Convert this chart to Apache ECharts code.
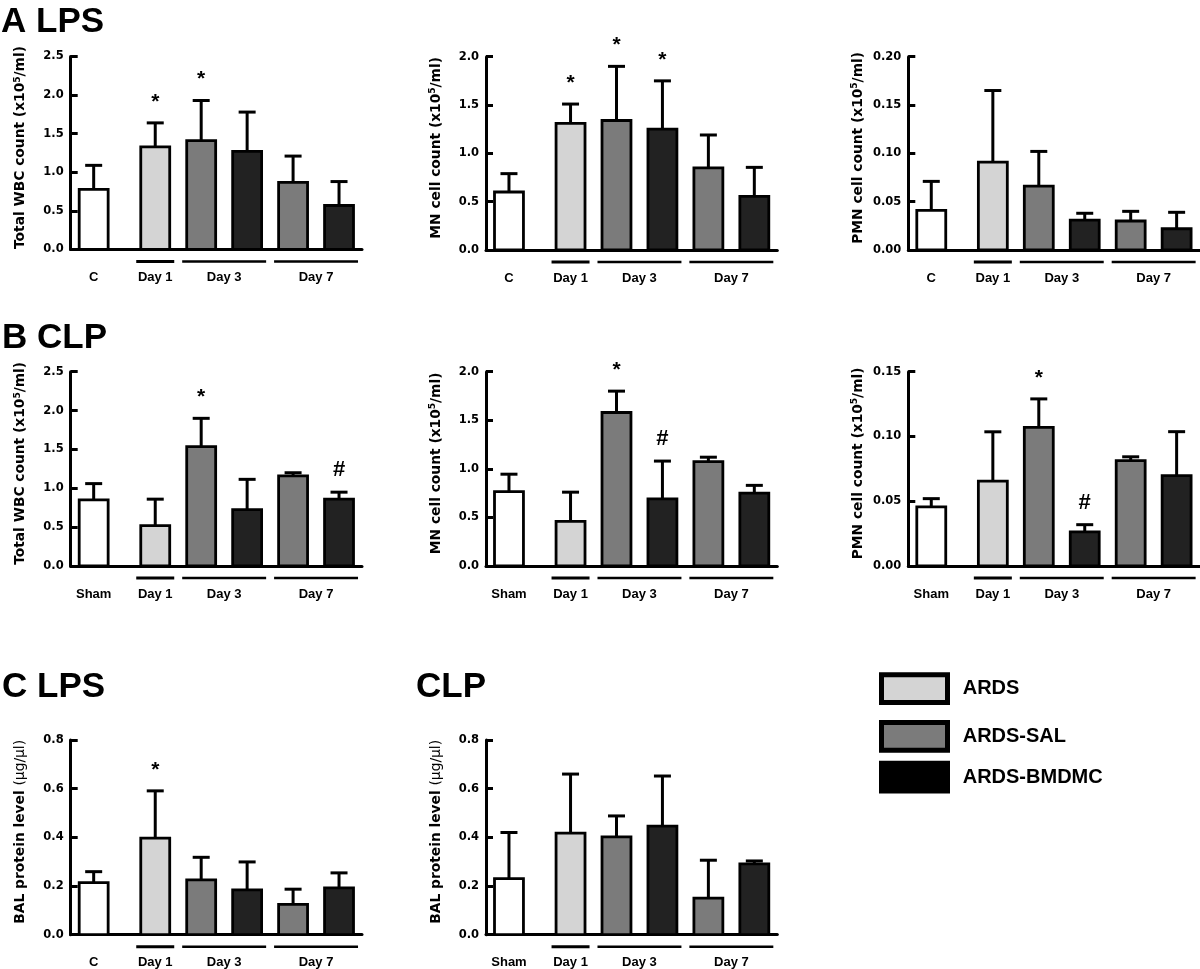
<!DOCTYPE html>
<html>
<head>
<meta charset="utf-8">
<script src="https://cdn.jsdelivr.net/npm/echarts@6/dist/echarts.min.js"></script>
<style>
html,body{margin:0;padding:0;background:#fff;}
#chart{width:1200px;height:969px;}
</style>
</head>
<body>
<div id="chart"></div>
<script>
// ---------- DATA ----------
const lpsGroupLabels = ['C', 'Day 1', 'Day 3', 'Day 7'];
const clpGroupLabels = ['Sham', 'Day 1', 'Day 3', 'Day 7'];
const barTreatment = ['Control', 'ARDS', 'ARDS-SAL', 'ARDS-BMDMC', 'ARDS-SAL', 'ARDS-BMDMC'];
const barGroupIndex = [0, 1, 2, 2, 3, 3];
const legendNames = ['ARDS', 'ARDS-SAL', 'ARDS-BMDMC'];

// A LPS
const lpsWbcMean = [0.78, 1.33, 1.41, 1.27, 0.87, 0.57];
const lpsWbcErr  = [0.31, 0.31, 0.52, 0.51, 0.34, 0.31];
const lpsWbcMark = ['', '*', '*', '', '', ''];
const lpsMnMean  = [0.60, 1.31, 1.34, 1.25, 0.85, 0.555];
const lpsMnErr   = [0.19, 0.20, 0.56, 0.50, 0.34, 0.30];
const lpsMnMark  = ['', '*', '*', '*', '', ''];
const lpsPmnMean = [0.041, 0.091, 0.066, 0.031, 0.030, 0.022];
const lpsPmnErr  = [0.030, 0.074, 0.036, 0.007, 0.010, 0.017];
const lpsPmnMark = ['', '', '', '', '', ''];
// B CLP
const clpWbcMean = [0.85, 0.52, 1.535, 0.725, 1.16, 0.86];
const clpWbcErr  = [0.21, 0.34, 0.365, 0.39, 0.04, 0.09];
const clpWbcMark = ['', '', '*', '', '', '#'];
const clpMnMean  = [0.765, 0.46, 1.58, 0.69, 1.075, 0.75];
const clpMnErr   = [0.18, 0.30, 0.22, 0.39, 0.045, 0.08];
const clpMnMark  = ['', '', '*', '#', '', ''];
const clpPmnMean = [0.0456, 0.0656, 0.107, 0.0263, 0.0813, 0.0697];
const clpPmnErr  = [0.0064, 0.038, 0.022, 0.0056, 0.003, 0.034];
const clpPmnMark = ['', '', '*', '#', '', ''];
// C protein
const lpsProtMean = [0.214, 0.397, 0.225, 0.184, 0.125, 0.192];
const lpsProtErr  = [0.045, 0.194, 0.093, 0.115, 0.062, 0.062];
const lpsProtMark = ['', '*', '', '', '', ''];
const clpProtMean = [0.23, 0.417, 0.402, 0.446, 0.150, 0.291];
const clpProtErr  = [0.19, 0.243, 0.086, 0.206, 0.156, 0.012];
const clpProtMark = ['', '', '', '', '', ''];

// ---------- STYLE / LAYOUT ----------
const fillOf = {'Control':'#ffffff','ARDS':'#d4d4d4','ARDS-SAL':'#7b7b7b','ARDS-BMDMC':'#222222'};
const legendFill = {'ARDS':'#d4d4d4','ARDS-SAL':'#7b7b7b','ARDS-BMDMC':'#000000'};
const slotX = barGroupIndex.map((g, i) => i === 0 ? 0 : i + 0.34);
const SANS = '"Liberation Sans", Arial, Helvetica, sans-serif';

const panels = [
  {left:70.7, top:56.5, h:193, max:2.5, interval:0.5, dec:1, name:'Total WBC count (x10{sup|5}/ml)', mean:lpsWbcMean, err:lpsWbcErr, mark:lpsWbcMark, labels:lpsGroupLabels},
  {left:486, top:56.7, h:193.3, max:2.0, interval:0.5, dec:1, name:'MN cell count (x10{sup|5}/ml)', mean:lpsMnMean, err:lpsMnErr, mark:lpsMnMark, labels:lpsGroupLabels},
  {left:908.3, top:56.7, h:193.3, max:0.20, interval:0.05, dec:2, name:'PMN cell count (x10{sup|5}/ml)', mean:lpsPmnMean, err:lpsPmnErr, mark:lpsPmnMark, labels:lpsGroupLabels},
  {left:70.7, top:371.7, h:194.3, max:2.5, interval:0.5, dec:1, name:'Total WBC count (x10{sup|5}/ml)', mean:clpWbcMean, err:clpWbcErr, mark:clpWbcMark, labels:clpGroupLabels},
  {left:486, top:371.7, h:194.3, max:2.0, interval:0.5, dec:1, name:'MN cell count (x10{sup|5}/ml)', mean:clpMnMean, err:clpMnErr, mark:clpMnMark, labels:clpGroupLabels},
  {left:908.3, top:371.7, h:194.3, max:0.15, interval:0.05, dec:2, name:'PMN cell count (x10{sup|5}/ml)', mean:clpPmnMean, err:clpPmnErr, mark:clpPmnMark, labels:clpGroupLabels},
  {left:70.7, top:740, h:194.7, max:0.8, interval:0.2, dec:1, name:'BAL protein level {n|(μg/μl)}', mean:lpsProtMean, err:lpsProtErr, mark:lpsProtMark, labels:lpsGroupLabels},
  {left:486, top:740, h:194.7, max:0.8, interval:0.2, dec:1, name:'BAL protein level {n|(μg/μl)}', mean:clpProtMean, err:clpProtErr, mark:clpProtMark, labels:clpGroupLabels}
];

const grids = [], xAxes = [], yAxes = [], series = [];
panels.forEach((p, k) => {
  grids.push({left:p.left, top:p.top, width:291.3, height:p.h, containLabel:false, outerBoundsMode:'none'});
  xAxes.push({gridIndex:k, type:'value', min:-0.5, max:5.84,
    axisLine:{show:true, onZero:false, lineStyle:{color:'#000', width:3}},
    axisTick:{show:false}, axisLabel:{show:false}, splitLine:{show:false}});
  yAxes.push({gridIndex:k, type:'value', min:0, max:p.max, interval:p.interval,
    axisLine:{show:true, onZero:false, lineStyle:{color:'#000', width:3}},
    axisTick:{show:true, inside:true, length:7, lineStyle:{color:'#000', width:3}},
    axisLabel:{color:'#000', fontFamily:'DejaVu Sans', fontWeight:'bold', fontSize:11.5, margin:7,
      formatter: v => v.toFixed(p.dec)},
    splitLine:{show:false},
    name:p.name, nameLocation:'middle', nameRotate:90, nameGap:42,
    nameTextStyle:{color:'#000', fontFamily:'DejaVu Sans', fontWeight:'bold', fontSize:13.8, lineHeight:16,
      padding:[0, 0, 0, 11],
      rich:{
        sup:{color:'#000', fontFamily:'DejaVu Sans', fontWeight:'bold', fontSize:9, lineHeight:16, verticalAlign:'top'},
        n:{color:'#000', fontFamily:'DejaVu Sans', fontWeight:'normal', fontSize:13.8, lineHeight:16}
      }}
  });
  // bars + error bars + significance marks
  series.push({
    type:'custom', xAxisIndex:k, yAxisIndex:k, clip:false, silent:true,
    data: p.mean.map((m, i) => [slotX[i], m, p.err[i], i]),
    renderItem: (params, api) => {
      const i = api.value(3), x = api.value(0), m = api.value(1), e = api.value(2);
      const p0 = api.coord([x, 0]), p1 = api.coord([x, m]), p2 = api.coord([x, m + e]);
      const w = api.size([1, 0])[0] * 0.63;
      const ch = [
        {type:'line', shape:{x1:p1[0], y1:p1[1], x2:p2[0], y2:p2[1]}, style:{stroke:'#000', lineWidth:3}},
        {type:'line', shape:{x1:p2[0]-8.5, y1:p2[1], x2:p2[0]+8.5, y2:p2[1]}, style:{stroke:'#000', lineWidth:3}},
        {type:'rect', shape:{x:p1[0]-w/2, y:p1[1], width:w, height:p0[1]-p1[1]},
          style:{fill:fillOf[barTreatment[i]], stroke:'#000', lineWidth:2.8}}
      ];
      const mk = p.mark[i];
      if (mk) {
        const star = mk === '*';
        ch.push({type:'text', x:p2[0], y:p2[1] - (star ? 21 : 22),
          style:{text:mk, fill:'#000', font: star ? 'bold 21px ' + SANS : 'bold 22px ' + SANS,
            align:'center', verticalAlign:'middle', textAlign:'center', textVerticalAlign:'middle'}});
      }
      return {type:'group', children:ch};
    }
  });
  // group underlines and labels
  series.push({
    type:'custom', xAxisIndex:k, yAxisIndex:k, clip:false, silent:true,
    data: p.labels.map((l, g) => [g, 0]),
    renderItem: (params, api) => {
      const g = api.value(0);
      const idx = barGroupIndex.map((v, i) => v === g ? i : -1).filter(i => i >= 0);
      const a = api.coord([slotX[idx[0]], 0]), b = api.coord([slotX[idx[idx.length-1]], 0]);
      const ch = [];
      if (g > 0) {
        ch.push({type:'line', shape:{x1:a[0]-19, y1:a[1]+12, x2:b[0]+19, y2:a[1]+12},
          style:{stroke:'#000', lineWidth: g === 1 ? 3 : 2.5}});
      }
      ch.push({type:'text', x:(a[0]+b[0])/2, y:a[1]+28,
        style:{text:p.labels[g], fill:'#000', font:'bold 13px ' + SANS,
          align:'center', verticalAlign:'middle', textAlign:'center', textVerticalAlign:'middle'}});
      return {type:'group', children:ch};
    }
  });
});

// titles and legend
const titleFont = 'bold 35px ' + SANS;
const graphics = [
  {type:'text', left:1, top:5, style:{text:'A LPS', font:titleFont, fill:'#000'}},
  {type:'text', left:2, top:321, style:{text:'B CLP', font:titleFont, fill:'#000'}},
  {type:'text', left:2, top:670, style:{text:'C LPS', font:titleFont, fill:'#000'}},
  {type:'text', left:416, top:670, style:{text:'CLP', font:titleFont, fill:'#000'}}
];
const legendTops = [672.3, 720, 760.7];
legendNames.forEach((n, i) => {
  graphics.push({type:'rect', shape:{x:881.5, y:legendTops[i]+2.5, width:66, height:27.8},
    style:{fill:legendFill[n], stroke:'#000', lineWidth:5}});
  graphics.push({type:'text', x:962.7, y:legendTops[i]+16.3,
    style:{text:n, font:'bold 20px ' + SANS, fill:'#000', textVerticalAlign:'middle', verticalAlign:'middle'}});
});

const chart = echarts.init(document.getElementById('chart'), null, {renderer:'canvas'});
chart.setOption({
  animation:false,
  backgroundColor:'#fff',
  grid:grids, xAxis:xAxes, yAxis:yAxes, series:series,
  graphic:graphics
});
</script>
</body>
</html>
